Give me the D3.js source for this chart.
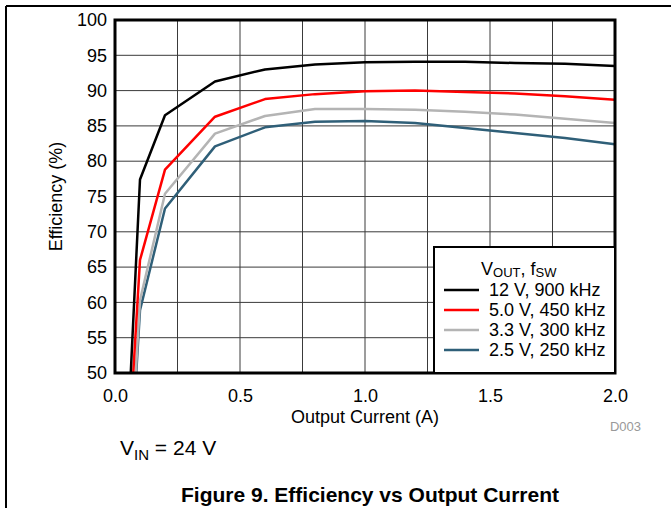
<!DOCTYPE html>
<html>
<head>
<meta charset="utf-8">
<script src="https://cdn.jsdelivr.net/npm/d3@7"></script>
<style>
  body { margin: 0; background: #fff; }
  svg { display: block; font-family: "Liberation Sans", Arial, sans-serif; }
</style>
</head>
<body>
<svg id="chart" width="671" height="508"></svg>
<script>
// efficiency curves (current in A, efficiency in %)
var current12 = [0.063, 0.1, 0.2, 0.4, 0.6, 0.8, 1.0, 1.2, 1.4, 1.6, 1.8, 2.0];
var eff12     = [50, 77.4, 86.5, 91.3, 93.0, 93.7, 94.0, 94.1, 94.1, 93.9, 93.8, 93.5];
var current5  = [0.073, 0.1, 0.2, 0.4, 0.6, 0.8, 1.0, 1.2, 1.4, 1.6, 1.8, 2.0];
var eff5      = [50, 66.0, 78.8, 86.3, 88.8, 89.5, 89.9, 90.0, 89.8, 89.6, 89.2, 88.7];
var current33 = [0.083, 0.1, 0.2, 0.4, 0.6, 0.8, 1.0, 1.2, 1.4, 1.6, 1.8, 2.0];
var eff33     = [50, 60.3, 75.4, 83.9, 86.4, 87.4, 87.4, 87.3, 87.0, 86.6, 86.0, 85.4];
var current25 = [0.085, 0.1, 0.2, 0.4, 0.6, 0.8, 1.0, 1.2, 1.4, 1.6, 1.8, 2.0];
var eff25     = [50, 58.9, 73.3, 82.1, 84.8, 85.6, 85.7, 85.4, 84.7, 84.0, 83.3, 82.4];

var seriesNames  = ["12 V, 900 kHz", "5.0 V, 450 kHz", "3.3 V, 300 kHz", "2.5 V, 250 kHz"];
var seriesColors = ["#000000", "#ff0000", "#b4b4b4", "#2f5f78"];

var xTicks = [0, 0.5, 1.0, 1.5, 2.0];
var xGrid  = d3.range(0, 2.0001, 0.25);
var yTicks = d3.range(50, 100.001, 5);

var series = [
  {name: seriesNames[0], color: seriesColors[0], x: current12, y: eff12},
  {name: seriesNames[1], color: seriesColors[1], x: current5,  y: eff5},
  {name: seriesNames[2], color: seriesColors[2], x: current33, y: eff33},
  {name: seriesNames[3], color: seriesColors[3], x: current25, y: eff25}
];

var svg = d3.select("#chart");

// page frame (top and left rules)
svg.append("line").attr("x1", 6).attr("y1", 6).attr("x2", 671).attr("y2", 6)
   .attr("stroke", "#000").attr("stroke-width", 2);
svg.append("line").attr("x1", 6).attr("y1", 6).attr("x2", 6).attr("y2", 508)
   .attr("stroke", "#000").attr("stroke-width", 2);

var pLeft = 115, pRight = 615, pTop = 20, pBottom = 373;
var x = d3.scaleLinear().domain([0, 2]).range([pLeft, pRight]);
var y = d3.scaleLinear().domain([50, 100]).range([pBottom, pTop]);

// grid
var grid = svg.append("g");
grid.selectAll("line.v").data(xGrid).enter().append("line")
  .attr("x1", d => x(d)).attr("x2", d => x(d))
  .attr("y1", pTop).attr("y2", pBottom)
  .attr("stroke", "#3a3a3a").attr("stroke-width", 1);
grid.selectAll("line.h").data(yTicks).enter().append("line")
  .attr("y1", d => y(d)).attr("y2", d => y(d))
  .attr("x1", pLeft).attr("x2", pRight)
  .attr("stroke", "#3a3a3a").attr("stroke-width", 1);

// curves
svg.append("clipPath").attr("id", "clip").append("rect")
  .attr("x", pLeft).attr("y", pTop).attr("width", pRight - pLeft).attr("height", pBottom - pTop);

var line = d3.line().x(d => x(d[0])).y(d => y(d[1]));
svg.append("g").attr("clip-path", "url(#clip)")
  .selectAll("path").data(series.slice().reverse()).enter().append("path")
  .attr("d", s => line(d3.zip(s.x, s.y)))
  .attr("fill", "none")
  .attr("stroke", s => s.color)
  .attr("stroke-width", 2.5)
  .attr("stroke-linejoin", "round");

// axes frame
svg.append("rect").attr("x", pLeft).attr("y", pTop)
  .attr("width", pRight - pLeft).attr("height", pBottom - pTop)
  .attr("fill", "none").attr("stroke", "#000").attr("stroke-width", 3);

// tick labels via d3 axes
var xAxis = svg.append("g").attr("transform", "translate(0," + pBottom + ")")
  .call(d3.axisBottom(x).tickValues(xTicks).tickSize(0).tickPadding(16).tickFormat(d3.format(".1f")));
var yAxis = svg.append("g").attr("transform", "translate(" + pLeft + ",0)")
  .call(d3.axisLeft(y).tickValues(yTicks).tickSize(0).tickPadding(8).tickFormat(d3.format("d")));
[xAxis, yAxis].forEach(function(a) {
  a.select(".domain").remove();
  a.selectAll("text").attr("font-size", 18).attr("fill", "#000")
    .attr("font-family", "'Liberation Sans', Arial, sans-serif");
});

// axis titles
svg.append("text").attr("x", x(1)).attr("y", 423).attr("text-anchor", "middle")
  .attr("font-size", 18).text("Output Current (A)");
svg.append("text").attr("transform", "translate(62," + ((pTop + pBottom) / 2) + ") rotate(-90)")
  .attr("text-anchor", "middle").attr("font-size", 18).text("Efficiency (%)");

svg.append("text").attr("x", 641).attr("y", 431).attr("text-anchor", "end")
  .attr("font-size", 13).attr("fill", "#999").text("D003");

// legend
var lg = svg.append("g").attr("transform", "translate(434,247)");
lg.append("rect").attr("width", 181).attr("height", 126)
  .attr("fill", "#fff").attr("stroke", "#000").attr("stroke-width", 2);
var hdr = lg.append("text").attr("x", 47).attr("y", 28).attr("font-size", 18);
hdr.append("tspan").text("V");
hdr.append("tspan").attr("font-size", 13).attr("dy", 2).text("OUT");
hdr.append("tspan").attr("dy", -2).text(", f");
hdr.append("tspan").attr("font-size", 13).attr("dy", 2).text("SW");
var rows = lg.selectAll("g.row").data(series).enter().append("g")
  .attr("transform", (d, i) => "translate(0," + (43 + i * 20) + ")");
rows.append("line").attr("x1", 10).attr("x2", 45).attr("y1", 0).attr("y2", 0)
  .attr("stroke", d => d.color).attr("stroke-width", 2.5);
rows.append("text").attr("x", 55).attr("y", 6).attr("font-size", 18).text(d => d.name);

// condition note
var vin = svg.append("text").attr("x", 120).attr("y", 455).attr("font-size", 21);
vin.append("tspan").text("V");
vin.append("tspan").attr("font-size", 15).attr("dy", 5).text("IN");
vin.append("tspan").attr("dy", -5).text(" = 24 V");

// figure caption
svg.append("text").attr("x", 370).attr("y", 502).attr("text-anchor", "middle")
  .attr("font-size", 21).attr("font-weight", "bold").text("Figure 9. Efficiency vs Output Current");
</script>
</body>
</html>
